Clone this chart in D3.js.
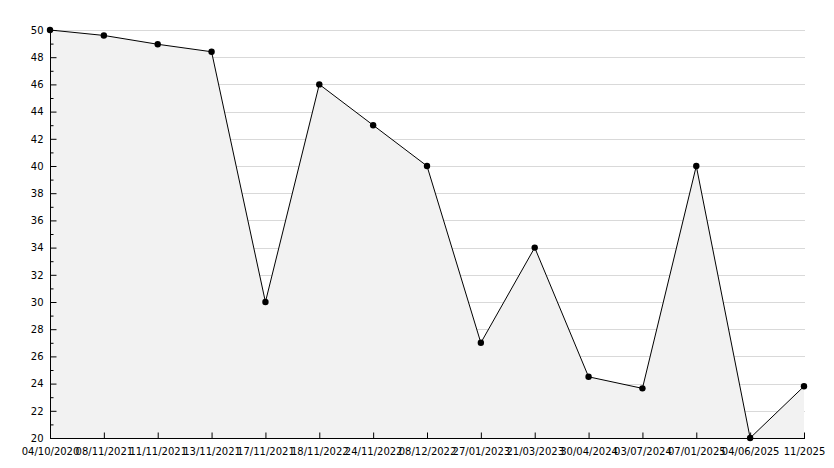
<!DOCTYPE html>
<html>
<head>
<meta charset="utf-8">
<script src="https://cdn.jsdelivr.net/npm/d3@7/dist/d3.min.js"></script>
<style>
html,body{margin:0;padding:0;background:#fff;}
svg{display:block;}
text{font-family:"DejaVu Sans",sans-serif;font-size:10px;fill:#000;}
</style>
</head>
<body>
<svg id="chart" width="834" height="468"></svg>
<script>
const categories = ["04/10/2020","08/11/2021","11/11/2021","13/11/2021","17/11/2021","18/11/2022","24/11/2022","08/12/2022","27/01/2023","21/03/2023","30/04/2024","03/07/2024","07/01/2025","04/06/2025","11/2025"];
const values = [50, 49.6, 48.95, 48.4, 30, 46, 43, 40, 27, 34, 24.5, 23.65, 40, 20, 23.8];
const yTicks = [20,22,24,26,28,30,32,34,36,38,40,42,44,46,48,50];
const yMinorTicks = [21,23,25,27,29,31,33,35,37,39,41,43,45,47,49];

const svg = d3.select("#chart");
const mLeft = 50, mRight = 804, mTop = 30, mBottom = 438;

const x = d3.scalePoint().domain(categories).range([mLeft, mRight]);
const y = d3.scaleLinear().domain([20, 50]).range([mBottom, mTop]);

// gridlines
svg.append("g").selectAll("line").data(yTicks.filter(d => d > 20)).join("line")
  .attr("x1", mLeft).attr("x2", mRight + 1)
  .attr("y1", d => Math.round(y(d)) + 0.5).attr("y2", d => Math.round(y(d)) + 0.5)
  .attr("stroke", "#d9d9d9").attr("stroke-width", 1);

// area
const area = d3.area().x((d, i) => x(categories[i])).y0(y(20)).y1(d => y(d));
svg.append("path").datum(values).attr("d", area).attr("fill", "#f2f2f2");

// line
const line = d3.line().x((d, i) => x(categories[i])).y(d => y(d));
svg.append("path").datum(values).attr("d", line)
  .attr("fill", "none").attr("stroke", "#000").attr("stroke-width", 1);

// y axis
const yAxis = d3.axisLeft(y).tickValues(yTicks).tickSize(-6).tickPadding(7).tickFormat(d3.format("d"));
const gy = svg.append("g").attr("transform", `translate(${mLeft + 0.5},0)`).call(yAxis);
gy.select(".domain").attr("stroke", "#000").attr("d", `M0,${mTop - 1}V${mBottom}`);
gy.selectAll("text").style("font-family", "DejaVu Sans").style("font-size", "10px");
const yMinor = d3.axisLeft(y).tickValues(yMinorTicks).tickSize(-3).tickFormat("");
const gym = svg.append("g").attr("transform", `translate(${mLeft + 0.5},0)`).call(yMinor);
gym.select(".domain").remove();

// x axis
const xAxis = d3.axisBottom(x).tickSize(-6).tickPadding(9);
const gx = svg.append("g").attr("transform", `translate(0,${mBottom + 0.5})`).call(xAxis);
gx.select(".domain").attr("stroke", "#000").attr("d", `M${mLeft},0H${mRight + 1}`);
gx.selectAll("text").style("font-family", "DejaVu Sans").style("font-size", "10px");

// markers
svg.append("g").selectAll("circle").data(values).join("circle")
  .attr("cx", (d, i) => x(categories[i])).attr("cy", d => y(d))
  .attr("r", 3.2).attr("fill", "#000");
</script>
</body>
</html>
